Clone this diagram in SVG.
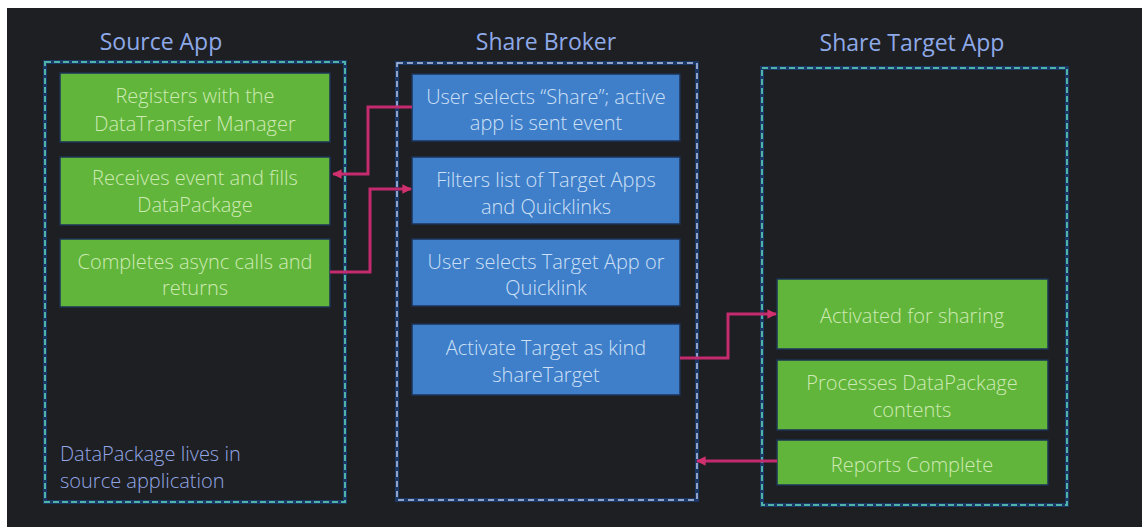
<svg xmlns="http://www.w3.org/2000/svg" width="1142" height="527" viewBox="0 0 1142 527">
<style>
.title{font-family:"Open Sans","Liberation Sans",sans-serif;font-size:23px;fill:#8ea9e8;text-anchor:middle}
.gt{font-family:"Open Sans","Liberation Sans",sans-serif;font-size:20px;font-weight:300;fill:#cdeab4;text-anchor:middle}
.bt{font-family:"Open Sans","Liberation Sans",sans-serif;font-size:20px;font-weight:300;fill:#cde0f6;text-anchor:middle}
.note{font-family:"Open Sans","Liberation Sans",sans-serif;font-size:20px;font-weight:300;fill:#93a6e6}
.green{fill:#62b53b;stroke:#1d3358;stroke-width:1.5}
.blue{fill:#3f7ec9;stroke:#1d3358;stroke-width:1.5}
.cbase{fill:none;stroke:#1b3766;stroke-width:4}
.cteal{fill:none;stroke:#4fb3a6;stroke-width:2;stroke-dasharray:6 3}
.cwhite{fill:none;stroke:#b8c8e8;stroke-width:1.5;stroke-dasharray:6 4}
.conn{fill:none;stroke:#c42a6e;stroke-width:3}
</style>
<defs>
<marker id="ah" viewBox="0 0 10 10" refX="9" refY="5" markerWidth="3.2" markerHeight="3.2" orient="auto">
<path d="M0,0 L10,5 L0,10 z" fill="#d0306e"/>
</marker>
</defs>
<rect x="0" y="0" width="1142" height="527" fill="#ffffff"/>
<rect x="7" y="8" width="1135" height="519" fill="#1e1f22"/>

<g id="source-app">
<text class="title" x="161" y="50">Source App</text>
<rect class="cbase" x="45" y="62" width="300" height="440"/>
<rect class="cteal" x="45" y="62" width="300" height="440"/>
<g id="src1"><rect class="green" x="60" y="73" width="270" height="69"/>
<text class="gt" x="195" y="103">Registers with the</text><text class="gt" x="195" y="131">DataTransfer Manager</text></g>
<g id="src2"><rect class="green" x="60" y="157" width="270" height="68"/>
<text class="gt" x="195" y="185">Receives event and fills</text><text class="gt" x="195" y="212">DataPackage</text></g>
<g id="src3"><rect class="green" x="60" y="239" width="270" height="68"/>
<text class="gt" x="195" y="269">Completes async calls and</text><text class="gt" x="195" y="295">returns</text></g>
<text class="note" x="60" y="461">DataPackage lives in</text>
<text class="note" x="60" y="488">source application</text>
</g>

<g id="share-broker">
<text class="title" x="546" y="50">Share Broker</text>
<rect class="cbase" x="397" y="63" width="300" height="437" stroke-width="3"/>
<rect class="cwhite" x="397" y="63" width="300" height="437"/>
<g id="br1"><rect class="blue" x="412" y="74" width="268" height="67"/>
<text class="bt" x="546" y="104">User selects “Share”; active</text><text class="bt" x="546" y="130">app is sent event</text></g>
<g id="br2"><rect class="blue" x="412" y="157" width="268" height="67"/>
<text class="bt" x="546" y="187">Filters list of Target Apps</text><text class="bt" x="546" y="214">and Quicklinks</text></g>
<g id="br3"><rect class="blue" x="412" y="239" width="268" height="67"/>
<text class="bt" x="546" y="269">User selects Target App or</text><text class="bt" x="546" y="295">Quicklink</text></g>
<g id="br4"><rect class="blue" x="412" y="324" width="268" height="71"/>
<text class="bt" x="546" y="355">Activate Target as kind</text><text class="bt" x="546" y="382">shareTarget</text></g>
</g>

<g id="share-target-app">
<text class="title" x="912" y="51">Share Target App</text>
<rect class="cbase" x="762" y="68" width="305" height="437"/>
<rect class="cteal" x="762" y="68" width="305" height="437"/>
<g id="tg1"><rect class="green" x="777" y="279" width="271" height="70"/>
<text class="gt" x="912" y="323">Activated for sharing</text></g>
<g id="tg2"><rect class="green" x="777" y="360" width="271" height="70"/>
<text class="gt" x="912" y="390">Processes DataPackage</text><text class="gt" x="912" y="417">contents</text></g>
<g id="tg3"><rect class="green" x="777" y="440" width="271" height="45"/>
<text class="gt" x="912" y="472">Reports Complete</text></g>
</g>

<g id="connectors">
<path class="conn" d="M412,107 H368 V174 H333" marker-end="url(#ah)"/>
<path class="conn" d="M330,272 H370 V189 H411" marker-end="url(#ah)"/>
<path class="conn" d="M680,358 H728 V314 H776" marker-end="url(#ah)"/>
<path class="conn" d="M777,461 H697" marker-end="url(#ah)"/>
</g>
</svg>
